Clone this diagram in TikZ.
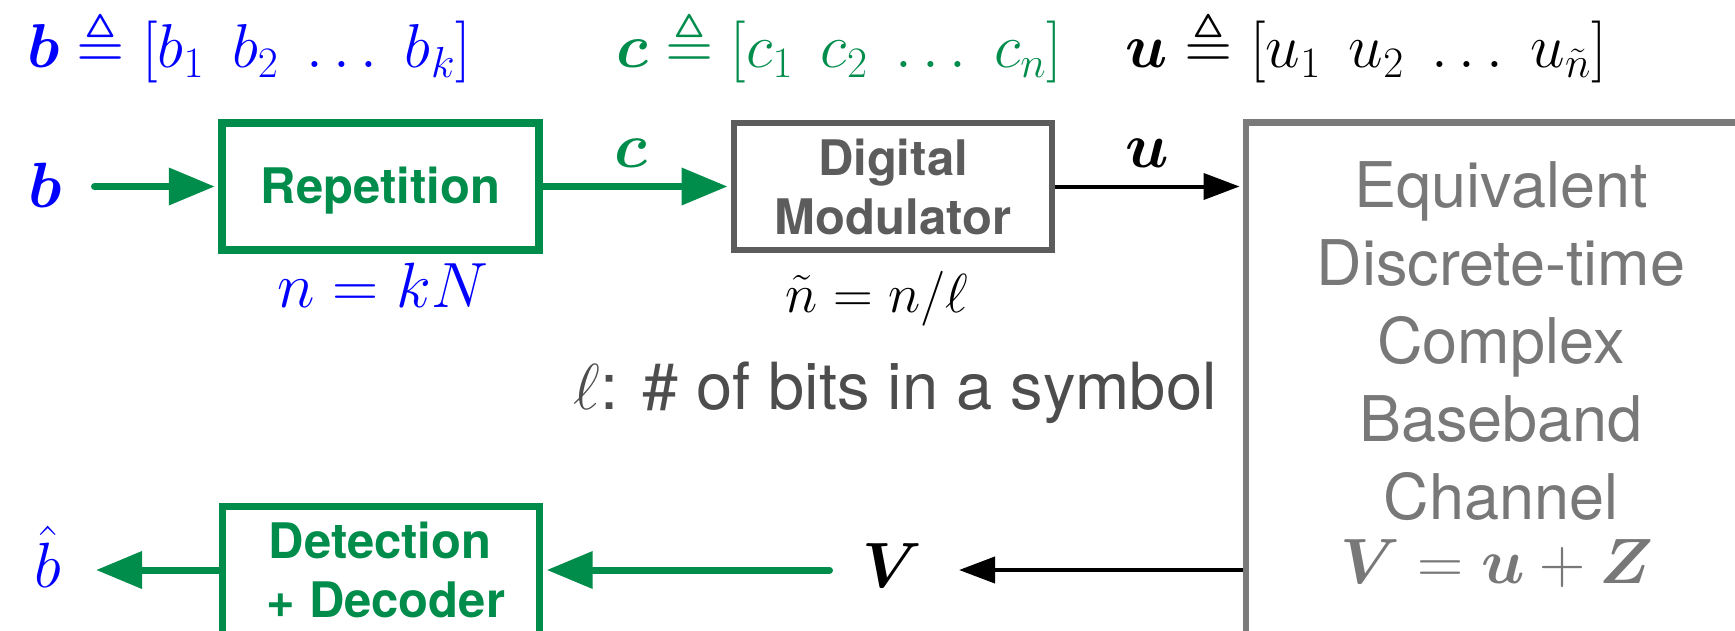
\RequirePackage{fix-cm}
\documentclass[tikz,border=0pt]{standalone}
\usepackage{amsmath,amssymb,bm}
\usepackage{fontspec}
\setsansfont{TeX Gyre Heros}
\usetikzlibrary{arrows.meta}

\definecolor{sigblue}{RGB}{0,0,255}
\definecolor{codegreen}{RGB}{0,140,75}
\definecolor{modgray}{RGB}{92,92,92}
\definecolor{changray}{RGB}{122,122,122}
\definecolor{chantext}{RGB}{120,120,120}
\definecolor{notegray}{RGB}{77,77,77}

% gap between the entries of a vector
\newcommand\gp{\mkern8mu}

\tikzset{
  boxfont/.style={font=\sffamily\bfseries\fontsize{24.5}{29.5}\selectfont},
  gbox/.style={draw=codegreen, line width=3.6pt, inner sep=0pt, text=codegreen,
    boxfont, align=center, minimum width=158.5pt, minimum height=63.5pt},
  mbox/.style={draw=modgray, line width=3.25pt, inner sep=0pt, text=modgray,
    boxfont, align=center, minimum width=159pt, minimum height=63.5pt},
  cbox/.style={draw=changray, line width=3.25pt, inner sep=0pt,
    minimum width=510pt/2, minimum height=557pt/2},
  toplbl/.style={anchor=base west, inner sep=0pt, font=\fontsize{31}{37}\selectfont},
  siglbl/.style={anchor=base, inner sep=0pt, font=\fontsize{32}{38}\selectfont},
  chanline/.style={anchor=base, inner sep=0pt, text=chantext,
    font=\sffamily\fontsize{31.5}{39}\selectfont},
  garrow/.style={draw=codegreen, line width=3.5pt, line cap=round,
    -{Triangle[length=23pt,width=18pt]}},
  barrow/.style={draw=black, line width=2pt, -{Triangle[length=18pt,width=13pt]}},
}

\begin{document}
\begin{tikzpicture}[x=0.5pt,y=-0.5pt]
\useasboundingbox (0,0) rectangle (1735,631);
\clip (0,0) rectangle (1735,631);

% vector definitions
\node[toplbl, text=sigblue] (bdef) at (27,68)
  {$\bm{b}\triangleq[b_1\gp b_2\gp{\ldots}\gp b_k]$};
\node[toplbl, text=codegreen] (cdef) at (616,68)
  {$\bm{c}\triangleq[c_1\gp c_2\gp{\ldots}\gp c_n]$};
\node[toplbl] (udef) at (1125,68)
  {$\bm{u}\triangleq[u_1\gp u_2\gp{\ldots}\gp u_{\tilde{n}}]$};

% transmitter chain
\node[gbox, text height=16.5pt, text depth=0pt] (rep) at (380.5,186.5) {Repetition};
\node[mbox] (mod) at (893,186.5) {Digital\\Modulator};
\node[cbox] (chan) at (1501,401) {};
\node[gbox, minimum height=96.5pt] (det) at (381,603) {};

\node[anchor=base, inner sep=0pt, boxfont, text=codegreen] (det1) at (380,558) {Detection};
\node[anchor=base, inner sep=0pt, boxfont, text=codegreen] (det2) at (386,617) {+ Decoder};

% channel description
\foreach \t [count=\i from 0] in {Equivalent,Discrete-time,Complex,Baseband,Channel}
  \node[chanline] (ch\i) at (1501,207+78*\i) {\t};
\node[siglbl, text=chantext] (vuz) at (1497,583) {$\bm{V}=\bm{u}+\bm{Z}$};

% signal labels
\node[siglbl, text=sigblue] (bin) at (45,207) {$\bm{b}$};
\node[siglbl, text=codegreen] (clbl) at (631,168) {$\bm{c}$};
\node[siglbl] (ulbl) at (1147,168) {$\bm{u}$};
\node[siglbl] (vlbl) at (892,587) {$\bm{V}$};
\node[siglbl, text=sigblue] (bhat) at (48,587) {$\hat{b}$};

\node[siglbl, text=sigblue] (nkn) at (383,307) {$n=kN$};
\node[anchor=base, inner sep=0pt, font=\fontsize{27.5}{33}\selectfont] (ntl) at (877,312)
  {$\tilde{n}=n/\ell$};
\node[anchor=base west, inner sep=0pt, text=notegray,
  font=\sffamily\fontsize{32.5}{39}\selectfont] (note) at (573,409)
  {$\ell$: \# of bits in a symbol};

% connectors
\coordinate (bstart) at (94.5,186.5);
\coordinate (vend) at (959,570);
\coordinate (vstart) at (829.5,570);
\coordinate (bhatend) at (96,570);

\draw[garrow, shorten >=1.8pt] (bstart) -- (rep.west);
\draw[garrow, shorten >=1.6pt] (rep.east) -- (mod.west);
\draw[barrow, shorten >=1.6pt] (mod.east) -- (mod.east -| chan.west);
\draw[barrow] (vend -| chan.west) -- (vend);
\draw[garrow, shorten >=1.8pt] (vstart) -- (vstart -| det.east);
\draw[garrow] (vstart -| det.west) -- (bhatend);
\end{tikzpicture}
\end{document}
